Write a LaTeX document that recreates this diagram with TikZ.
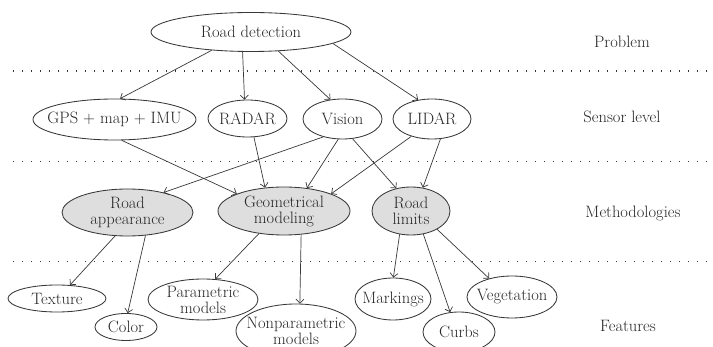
\documentclass[tikz,border=0pt]{standalone}
\usetikzlibrary{arrows.meta,shapes.geometric}
\definecolor{ink}{HTML}{383838}
\definecolor{txtc}{HTML}{262626}
\definecolor{shade}{HTML}{DEDEDE}
\begin{document}
\begin{tikzpicture}[x=1pt,y=-1pt,
  every node/.style={font=\fontsize{16.5}{16}\selectfont, text=txtc},
  el/.style={ellipse, draw=ink, line width=0.85pt, inner sep=0pt},
  meth/.style={el, fill=shade},
  txt/.style={align=center, inner sep=0pt},
  arr/.style={draw=ink, line width=0.7pt, -{Straight Barb[length=4pt,width=8pt]}},
  sepline/.style={draw=ink, line width=1.1pt, dash pattern=on 1.1pt off 7.9pt},
  side/.style={inner sep=0pt}
]
\useasboundingbox (0,0) rectangle (713,347);
\clip (0,0) rectangle (713,347);

% separators
\foreach \yy/\nm in {71/a,161.5/b,261.5/c}{
  \coordinate (s\nm1) at (13,\yy);
  \coordinate (s\nm2) at (713,\yy);
  \draw[sepline] (s\nm1) -- (s\nm2);
}

% level labels
\node[side] (lp) at (622,42) {Problem};
\node[side] (ls) at (622,117) {Sensor level};
\node[side] (lm) at (633,213) {Methodologies};
\node[side] (lf) at (628,326) {Features};

% problem
\node[el, minimum width=200pt, minimum height=39pt, label={[txt]center:Road detection}] (rd) at (251,32) {};

% sensors
\node[el, minimum width=163pt, minimum height=41pt, label={[txt]center:GPS + map + IMU}] (gps) at (114.5,119.5) {};
\node[el, minimum width=79pt, minimum height=37pt, label={[txt]center:RADAR}] (radar) at (247.5,118.5) {};
\node[el, minimum width=79pt, minimum height=40pt, label={[txt]center:Vision}] (vision) at (342.5,119) {};
\node[el, minimum width=78pt, minimum height=40pt, label={[txt]center:LIDAR}] (lidar) at (432,119) {};

% methodologies
\node[meth, minimum width=131pt, minimum height=47pt, label={[txt]center:Road\\appearance}] (ra) at (127.5,212.5) {};
\node[meth, minimum width=132pt, minimum height=48pt, label={[txt]center:Geometrical\\modeling}] (gm) at (284,211) {};
\node[meth, minimum width=78pt, minimum height=48pt, label={[txt]center:Road\\limits}] (rl) at (411,211) {};

% features
\node[el, minimum width=98pt, minimum height=27pt, label={[txt]center:Texture}] (tex) at (57,298.5) {};
\node[el, minimum width=62pt, minimum height=27pt, label={[txt]center:Color}] (col) at (126,327) {};
\node[el, minimum width=110pt, minimum height=41pt, label={[txt]center:Parametric\\models}] (par) at (203,299.5) {};
\node[el, minimum width=120pt, minimum height=54pt, label={[txt]center:Nonparametric\\models}] (nonp) at (296,331) {};
\node[el, minimum width=76pt, minimum height=42pt, label={[txt]center:Markings}] (mark) at (393,299) {};
\node[el, minimum width=72pt, minimum height=40pt, label={[txt]center:Curbs}] (curb) at (459,332) {};
\node[el, minimum width=90pt, minimum height=42pt, label={[txt]center:Vegetation}] (veg) at (512,297) {};

% connectors
\draw[arr] (rd.205) -- (gps.75);
\draw[arr] (rd.247) -- (radar.99);
\draw[arr] (rd.325) -- (vision.122);
\draw[arr] (rd.352) -- (lidar.126);

\draw[arr] (gps.289) -- (gm.160);
\draw[arr] (radar.289) -- (gm.129);
\draw[arr] (vision.223) -- (ra.29);
\draw[arr] (vision.258) -- (gm.45);
\draw[arr] (vision.297) -- (rl.123);
\draw[arr] (lidar.220) -- (gm.20);
\draw[arr] (lidar.293) -- (rl.63);

\draw[arr] (ra.242) -- (tex.46);
\draw[arr] (ra.308) -- (col.83);
\draw[arr] (gm.222) -- (par.59);
\draw[arr] (gm.306) -- (nonp.82);
\draw[arr] (rl.244) -- (mark.89);
\draw[arr] (rl.298) -- (curb.114);
\draw[arr] (rl.325) -- (veg.141);
\end{tikzpicture}
\end{document}
